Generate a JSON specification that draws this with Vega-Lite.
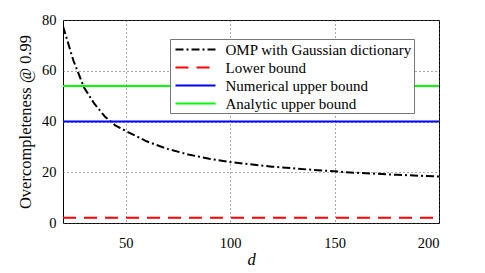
{
  "$schema": "https://vega.github.io/schema/vega-lite/v6.json",
  "autosize": "none",
  "width": 376,
  "height": 203,
  "padding": {"left": 63, "top": 20, "right": 46, "bottom": 50},
  "background": "white",
  "config": {
    "font": "Liberation Serif",
    "view": {"stroke": "black", "strokeWidth": 1},
    "axis": {
      "labelFont": "Liberation Serif",
      "titleFont": "Liberation Serif",
      "labelFontSize": 14.5,
      "titleFontSize": 16.5,
      "labelColor": "black",
      "titleColor": "black",
      "titleFontWeight": "normal",
      "domain": false,
      "ticks": false,
      "gridColor": "#555555",
      "gridDash": [1, 3],
      "gridOpacity": 1,
      "gridWidth": 1
    },
    "legend": {
      "title": null,
      "orient": "none",
      "legendX": 107,
      "legendY": 19,
      "symbolType": "M-2.5,0H2.5",
      "symbolSize": 256,
      "symbolStrokeWidth": 2,
      "symbolOffset": 15,
      "labelOffset": 21,
      "labelFont": "Liberation Serif",
      "labelFontSize": 15,
      "labelColor": "black",
      "labelLimit": 300,
      "rowPadding": 1,
      "padding": 1.5,
      "strokeColor": "#777777",
      "fillColor": "white"
    }
  },
  "data": {
    "values": [
      {"series": "OMP with Gaussian dictionary", "d": 20, "v": 77.5},
      {"series": "OMP with Gaussian dictionary", "d": 25, "v": 64},
      {"series": "OMP with Gaussian dictionary", "d": 30, "v": 53.5},
      {"series": "OMP with Gaussian dictionary", "d": 35, "v": 47},
      {"series": "OMP with Gaussian dictionary", "d": 40, "v": 42},
      {"series": "OMP with Gaussian dictionary", "d": 45, "v": 38.5},
      {"series": "OMP with Gaussian dictionary", "d": 50, "v": 36.3},
      {"series": "OMP with Gaussian dictionary", "d": 60, "v": 32.2},
      {"series": "OMP with Gaussian dictionary", "d": 70, "v": 29.2},
      {"series": "OMP with Gaussian dictionary", "d": 80, "v": 27},
      {"series": "OMP with Gaussian dictionary", "d": 90, "v": 25.3},
      {"series": "OMP with Gaussian dictionary", "d": 100, "v": 24},
      {"series": "OMP with Gaussian dictionary", "d": 120, "v": 22.2},
      {"series": "OMP with Gaussian dictionary", "d": 140, "v": 20.9},
      {"series": "OMP with Gaussian dictionary", "d": 160, "v": 19.8},
      {"series": "OMP with Gaussian dictionary", "d": 180, "v": 19},
      {"series": "OMP with Gaussian dictionary", "d": 200, "v": 18.3},
      {"series": "Lower bound", "d": 20, "v": 2.1},
      {"series": "Lower bound", "d": 200, "v": 2.1},
      {"series": "Numerical upper bound", "d": 20, "v": 40},
      {"series": "Numerical upper bound", "d": 200, "v": 40},
      {"series": "Analytic upper bound", "d": 20, "v": 54},
      {"series": "Analytic upper bound", "d": 200, "v": 54}
    ]
  },
  "mark": {"type": "line", "strokeWidth": 2, "clip": true},
  "encoding": {
    "x": {
      "field": "d",
      "type": "quantitative",
      "scale": {"domain": [20, 200], "nice": false, "zero": false},
      "axis": {"values": [50, 100, 150, 200], "grid": true, "title": "d", "titleFontStyle": "italic", "titlePadding": 2, "labelPadding": 13}
    },
    "y": {
      "field": "v",
      "type": "quantitative",
      "scale": {"domain": [0, 80], "nice": false},
      "axis": {"values": [0, 20, 40, 60, 80], "grid": true, "title": "Overcompleteness @ 0.99", "titlePadding": 8, "labelPadding": 7}
    },
    "color": {
      "field": "series",
      "type": "nominal",
      "scale": {
        "domain": ["OMP with Gaussian dictionary", "Lower bound", "Numerical upper bound", "Analytic upper bound"],
        "range": ["#000000", "#ff0000", "#0000ff", "#00ff00"]
      }
    },
    "strokeDash": {
      "field": "series",
      "type": "nominal",
      "scale": {
        "domain": ["OMP with Gaussian dictionary", "Lower bound", "Numerical upper bound", "Analytic upper bound"],
        "range": [[8, 3, 2, 3], [13, 8], [1, 0], [1, 0]]
      }
    }
  }
}
